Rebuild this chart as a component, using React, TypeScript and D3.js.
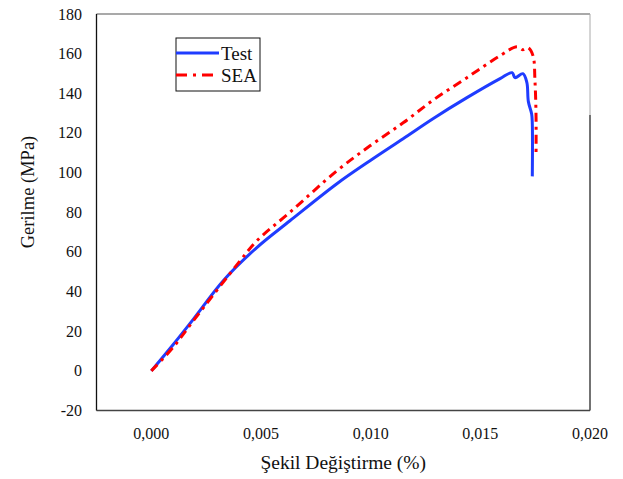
import React, {useEffect, useRef} from "react";
import * as d3 from "d3";

// strain (-) / stress (MPa)
const testStrain = [0, 0.00099, 0.00191, 0.00328, 0.00481, 0.00632, 0.00846, 0.00997, 0.01148, 0.01284, 0.01439, 0.01590, 0.01645, 0.01658, 0.01694, 0.01712, 0.01719, 0.01734, 0.01737, 0.01737];
const testStress = [0, 13.2, 26.0, 45.5, 62.2, 75.7, 94.4, 106.0, 117.1, 127.2, 137.8, 147.4, 150.4, 147.9, 149.9, 145.5, 135.8, 129.6, 124.5, 98.1];

const seaStrain = [0, 0.00099, 0.00191, 0.00404, 0.00481, 0.00632, 0.00846, 0.00997, 0.01148, 0.01284, 0.01439, 0.01590, 0.01667, 0.01694, 0.01717, 0.01740, 0.01749, 0.01754, 0.01754];
const seaStress = [0, 11.8, 25.2, 55.4, 65.6, 80.0, 100.9, 113.5, 125.1, 136.5, 147.9, 159.0, 163.5, 162.0, 163.0, 159.0, 146.4, 128.2, 109.5];

const xTicks = [0, 0.005, 0.010, 0.015, 0.020];
const yTicks = [-20, 0, 20, 40, 60, 80, 100, 120, 140, 160, 180];

const seriesNames = ["Test", "SEA"];
const seriesColors = ["#1f3cff", "#ff0000"];

const FONT = "'Liberation Serif', 'Times New Roman', serif";

function drawChart(node: SVGSVGElement){
    const svg = d3.select(node);
    svg.selectAll("*").remove();

    const left = 96.5, right = 590, top = 14, bottom = 410.5;

    let x = d3.scaleLinear().domain([-0.0025, 0.020]).range([left, right]),
        y = d3.scaleLinear().domain([-20, 180]).range([bottom, top]);

    // frame
    svg.append("line").attr("x1", left).attr("x2", right).attr("y1", top).attr("y2", top)
        .attr("stroke", "#555").attr("stroke-width", 1.2);
    svg.append("line").attr("x1", left).attr("x2", right).attr("y1", bottom).attr("y2", bottom)
        .attr("stroke", "#444").attr("stroke-width", 1.5);
    svg.append("line").attr("x1", left).attr("x2", left).attr("y1", top).attr("y2", bottom)
        .attr("stroke", "#111").attr("stroke-width", 1.3);
    svg.append("line").attr("x1", right).attr("x2", right).attr("y1", top).attr("y2", 115)
        .attr("stroke", "#aaa").attr("stroke-width", 1);
    svg.append("line").attr("x1", right).attr("x2", right).attr("y1", 115).attr("y2", bottom)
        .attr("stroke", "#444").attr("stroke-width", 1.5);

    // tick labels
    svg.append("g").selectAll("text")
        .data(yTicks).enter()
        .append("text")
            .attr("x", 82)
            .attr("y", d => y(d) + 5.5)
            .attr("text-anchor", "end")
            .style("font-family", FONT)
            .style("font-size", "16px")
            .attr("fill", "#111")
            .text(d => String(d));

    svg.append("g").selectAll("text")
        .data(xTicks).enter()
        .append("text")
            .attr("x", d => x(d))
            .attr("y", 439)
            .attr("text-anchor", "middle")
            .style("font-family", FONT)
            .style("font-size", "16px")
            .attr("fill", "#111")
            .text(d => d3.format(".3f")(d).replace(".", ","));

    // axis titles
    svg.append("text")
        .attr("x", (left + right) / 2)
        .attr("y", 469)
        .attr("text-anchor", "middle")
        .style("font-family", FONT)
        .style("font-size", "19.5px")
        .attr("fill", "#111")
        .text("Şekil Değiştirme (%)");

    svg.append("text")
        .attr("transform", "translate(34,192) rotate(-90)")
        .attr("text-anchor", "middle")
        .style("font-family", FONT)
        .style("font-size", "18.5px")
        .attr("fill", "#111")
        .text("Gerilme (MPa)");

    const line = d3.line<[number, number]>()
                    .curve(d3.curveCatmullRom.alpha(0.5))
                    .x(d => x(d[0]))
                    .y(d => y(d[1]));

    const testPts = testStrain.map((s, i) => [s, testStress[i]] as [number, number]);
    const seaPts = seaStrain.map((s, i) => [s, seaStress[i]] as [number, number]);

    svg.append("path")
        .attr("d", line(testPts))
        .attr("fill", "none")
        .attr("stroke", seriesColors[0])
        .attr("stroke-width", 3)
        .attr("stroke-linejoin", "round");

    svg.append("path")
        .attr("d", line(seaPts))
        .attr("fill", "none")
        .attr("stroke", seriesColors[1])
        .attr("stroke-width", 3)
        .attr("stroke-dasharray", "9,5,3,5");

    // legend
    const lg = svg.append("g");
    lg.append("rect")
        .attr("x", 176).attr("y", 38)
        .attr("width", 84).attr("height", 53)
        .attr("fill", "white")
        .attr("stroke", "#111")
        .attr("stroke-width", 1);

    seriesNames.forEach((name, i) => {
        let ly = 53 + i * 22;
        lg.append("line")
            .attr("x1", 176).attr("x2", 219)
            .attr("y1", ly).attr("y2", ly)
            .attr("stroke", seriesColors[i])
            .attr("stroke-width", 3)
            .attr("stroke-dasharray", i === 1 ? "11,6,3,6" : null);
        lg.append("text")
            .attr("x", 221)
            .attr("y", ly + 7)
            .style("font-family", FONT)
            .style("font-size", "19px")
            .attr("fill", "#111")
            .text(name);
    });
}

export default function App(){
    const ref = useRef<SVGSVGElement>(null);
    useEffect(() => { if(ref.current) drawChart(ref.current); }, []);

    return (
        <div style={{position: "absolute", left: 0, top: 0, background: "white"}}>
            <svg ref={ref} width={623} height={479}></svg>
        </div>
    );
}
